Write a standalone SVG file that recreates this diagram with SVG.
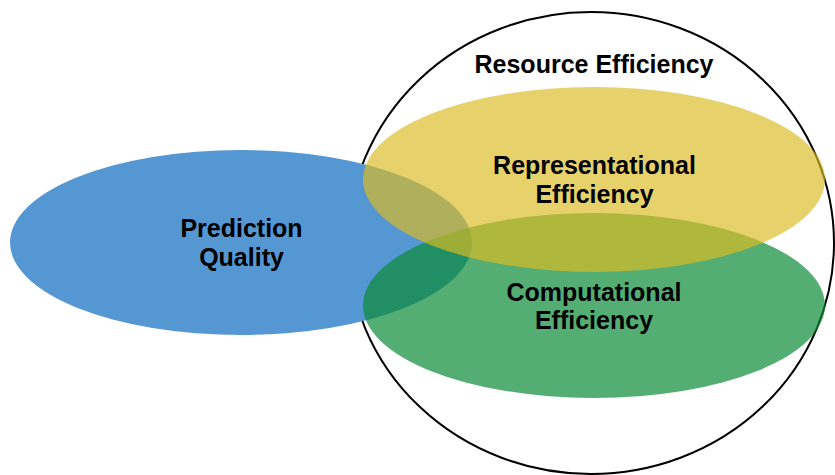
<svg xmlns="http://www.w3.org/2000/svg" width="835" height="475" viewBox="0 0 835 475">
<style>
.lbl{font-family:"Liberation Sans",Arial,sans-serif;font-weight:bold;font-size:25px;fill:#000;text-anchor:middle}
</style>
<rect width="835" height="475" fill="#fff"/>
<g id="resource-efficiency">
<ellipse cx="591" cy="243" rx="243" ry="231" fill="none" stroke="#000" stroke-width="2"/>
<text class="lbl" x="594" y="73">Resource Efficiency</text>
</g>
<g id="prediction-quality">
<ellipse cx="241" cy="242.5" rx="231" ry="92.5" fill="#5597D3"/>
</g>
<g id="computational-efficiency">
<ellipse cx="594" cy="305.5" rx="231" ry="92.5" fill="rgb(12,138,54)" fill-opacity="0.7"/>
</g>
<g id="representational-efficiency">
<ellipse cx="594" cy="179.5" rx="231" ry="92.5" fill="rgb(218,187,36)" fill-opacity="0.68"/>
</g>
<g id="labels">
<text class="lbl" x="241.5" y="237">Prediction</text>
<text class="lbl" x="241.5" y="266">Quality</text>
<text class="lbl" x="594.5" y="174">Representational</text>
<text class="lbl" x="594.5" y="203">Efficiency</text>
<text class="lbl" x="594" y="301">Computational</text>
<text class="lbl" x="594" y="329">Efficiency</text>
</g>
<g id="connectors"></g>
</svg>
